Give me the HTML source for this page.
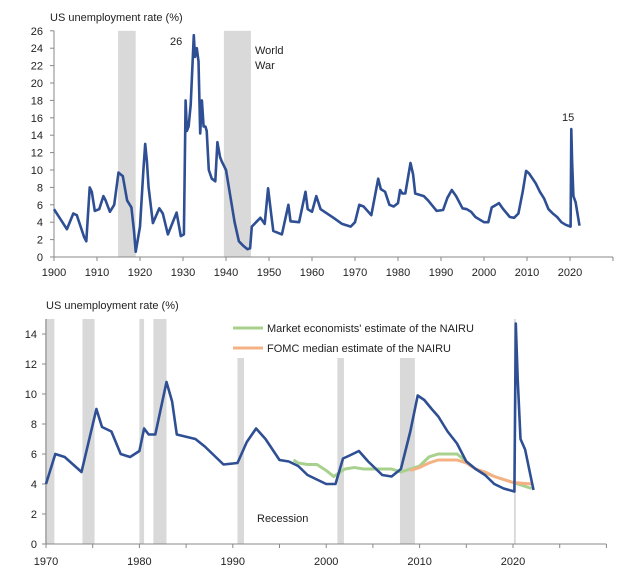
<!DOCTYPE html>
<html><head><meta charset="utf-8"><style>
body{margin:0;background:#fff}
svg text{font-family:"Liberation Sans",sans-serif;fill:#222}
</style></head><body>
<svg id="c" width="635" height="575"></svg>
<script>
const years=[1900,1903,1904.5,1905.3,1907,1907.5,1908.3,1908.8,1909.5,1910.5,1911.5,1912,1913,1914,1915,1916,1917,1918,1918.6,1919,1920,1920.8,1921.2,1921.6,1922,1923,1924.5,1925.3,1926.5,1928.5,1929.5,1930.2,1930.6,1930.9,1931.3,1931.8,1932.5,1932.8,1933.2,1933.6,1934,1934.4,1934.8,1935.2,1935.5,1936,1936.7,1937.5,1938,1938.6,1939,1940,1941,1942,1943,1944,1945,1945.6,1946,1947,1948,1949,1949.8,1950.5,1951,1953,1954.5,1955,1957,1958.5,1959,1960,1961,1962,1965,1967,1969,1970,1971,1972,1973.8,1975.4,1976,1977,1978,1979,1980,1980.5,1981,1981.7,1982.9,1983.5,1984,1986,1987,1989,1990.5,1991.5,1992.5,1993.5,1995,1996,1997,1998,2000,2001,2001.8,2002.5,2003.5,2004.5,2006,2007,2008,2009,2009.8,2010.5,2011.3,2012,2013,2014,2015,2016,2017,2018,2019,2020.15,2020.3,2020.5,2020.8,2021.3,2022.2];
const rates=[5.5,3.2,5,4.8,2.3,1.8,8,7.5,5.3,5.5,7,6.5,5.2,6,9.7,9.3,6.5,5.7,3,0.6,3.5,10,13,11,8,3.9,5.6,5,2.6,5.1,2.4,2.6,18,14.5,15,17.5,25.5,23,24,22.5,14.2,18,15,15,14.5,10,9,8.7,13.2,11.5,11,10,7,4,1.8,1.3,0.9,1,3.5,4,4.5,3.8,7.9,5,3,2.6,6,4.1,4,7.5,5.5,5.2,7,5.5,4.5,3.8,3.5,4,6,5.8,4.8,9,7.8,7.5,6,5.8,6.2,7.7,7.3,7.3,10.8,9.5,7.3,7,6.5,5.3,5.4,6.8,7.7,7,5.6,5.5,5.2,4.6,4,4,5.7,5.9,6.2,5.5,4.6,4.5,5,7.5,9.9,9.6,9,8.5,7.5,6.7,5.5,5,4.6,4,3.7,3.5,14.7,11,7,6.3,3.6];
const mktYears=[1996.5,1997,1998,1999,2000,2000.8,2001.5,2002,2003,2004,2007,2008,2009,2010,2011,2012,2014,2015,2016,2018,2020,2022];
const mktVals=[5.6,5.4,5.3,5.3,4.9,4.5,4.8,5,5.1,5,5,4.8,5,5.2,5.8,6,6,5.5,5,4.5,4.1,3.7];
const fomcYears=[2009,2010,2011,2012,2014,2015,2016,2017,2018,2019,2020,2022];
const fomcVals=[4.9,5.1,5.4,5.6,5.6,5.4,5,4.8,4.5,4.3,4.1,4.0];
const topRec=[[1914.9,1919.0],[1939.5,1945.8]];
const botRec=[[1969.9,1970.9,1],[1973.9,1975.2,1],[1980,1980.5,1],[1981.5,1982.9,1],[1990.5,1991.2,0],[2001.2,2001.9,0],[2007.9,2009.5,0],[2020.1,2020.3,1]];
const topYTicks=[0,2,4,6,8,10,12,14,16,18,20,22,24,26];
const topXTicks=[1900,1910,1920,1930,1940,1950,1960,1970,1980,1990,2000,2010,2020];
const botYTicks=[0,2,4,6,8,10,12,14];
const botXTicks=[1970,1980,1990,2000,2010,2020];
const NS='http://www.w3.org/2000/svg', svg=document.getElementById('c');
function el(t,a,txt){const e=document.createElementNS(NS,t);for(const k in a)e.setAttribute(k,a[k]);if(txt!==undefined)e.textContent=txt;svg.appendChild(e);return e;}
// top axes
const tx=y=>54+(y-1900)*4.3, ty=v=>257-v*8.7;
let e;
topRec.forEach(r=>{e=el('rect',{x:tx(r[0]),y:ty(26),width:tx(r[1])-tx(r[0]),height:ty(0)-ty(26),fill:'#d9d9d9'});
});
e=el('line',{x1:54,y1:ty(0),x2:54,y2:ty(26),stroke:'#888'});
e=el('line',{x1:54,y1:ty(0),x2:tx(2030),y2:ty(0),stroke:'#888'});
topYTicks.forEach(v=>{el('line',{x1:50,y1:ty(v),x2:54,y2:ty(v),stroke:'#888'});
e=el('text',{x:43,y:ty(v)+4,'font-size':11,'text-anchor':'end'},v);});
for(let y=1900;y<=2030;y+=10){el('line',{x1:tx(y),y1:ty(0),x2:tx(y),y2:ty(0)+4,stroke:'#888'});}
topXTicks.forEach(y=>{e=el('text',{x:tx(y),y:276,'font-size':11,'text-anchor':'middle'},y);});
e=el('path',{d:years.map((y,i)=>(i?'L':'M')+tx(y).toFixed(1)+','+ty(rates[i]).toFixed(1)).join(''),fill:'none',stroke:'#2e4f93','stroke-width':2.6,'stroke-linejoin':'round'});

e=el('text',{x:50,y:21,'font-size':11},'US unemployment rate (%)');
e=el('text',{x:170,y:45,'font-size':11},'26');
e=el('text',{x:255,y:54,'font-size':11},'World');
e=el('text',{x:255,y:69,'font-size':11},'War');
e=el('text',{x:562,y:121,'font-size':11},'15');
// bottom
const bx=y=>46+(y-1970)*9.34, by=v=>544-v*15;
botRec.forEach(r=>{const top=r[2]?by(15):by(12.4);e=el('rect',{x:bx(r[0]),y:top,width:Math.max(1.5,bx(r[1])-bx(r[0])),height:by(0)-top,fill:'#d9d9d9'});
});
e=el('line',{x1:46,y1:by(0),x2:46,y2:by(15),stroke:'#888'});
e=el('line',{x1:46,y1:by(0),x2:bx(2030),y2:by(0),stroke:'#888'});
botYTicks.forEach(v=>{el('line',{x1:42,y1:by(v),x2:46,y2:by(v),stroke:'#888'});
e=el('text',{x:37,y:by(v)+4,'font-size':11,'text-anchor':'end'},v);});
for(let y=1970;y<=2030;y+=5){el('line',{x1:bx(y),y1:by(0),x2:bx(y),y2:by(0)+4,stroke:'#888'});}
botXTicks.forEach(y=>{e=el('text',{x:bx(y),y:565,'font-size':11,'text-anchor':'middle'},y);});
const line=(xs,vs)=>xs.map((y,i)=>(i?'L':'M')+bx(y).toFixed(1)+','+by(vs[i]).toFixed(1)).join('');
e=el('path',{d:line(mktYears,mktVals),fill:'none',stroke:'#a9d18e','stroke-width':3});
e=el('path',{d:line(fomcYears,fomcVals),fill:'none',stroke:'#f4b183','stroke-width':3});
const bi=years.map((y,i)=>i).filter(i=>years[i]>=1969.5);
e=el('path',{d:line(bi.map(i=>Math.max(1970,years[i])),bi.map(i=>years[i]<1970?3.9:rates[i])),fill:'none',stroke:'#2e4f93','stroke-width':2.6,'stroke-linejoin':'round'});

e=el('text',{x:46,y:309,'font-size':11},'US unemployment rate (%)');
e=el('line',{x1:233,y1:328,x2:263,y2:328,stroke:'#a9d18e','stroke-width':3});
e=el('text',{x:267,y:332,'font-size':11},"Market economists' estimate of the NAIRU");
e=el('line',{x1:233,y1:348,x2:263,y2:348,stroke:'#f4b183','stroke-width':3});
e=el('text',{x:267,y:352,'font-size':11},'FOMC median estimate of the NAIRU');
e=el('text',{x:257,y:522,'font-size':11},'Recession');
</script>
</body></html>
